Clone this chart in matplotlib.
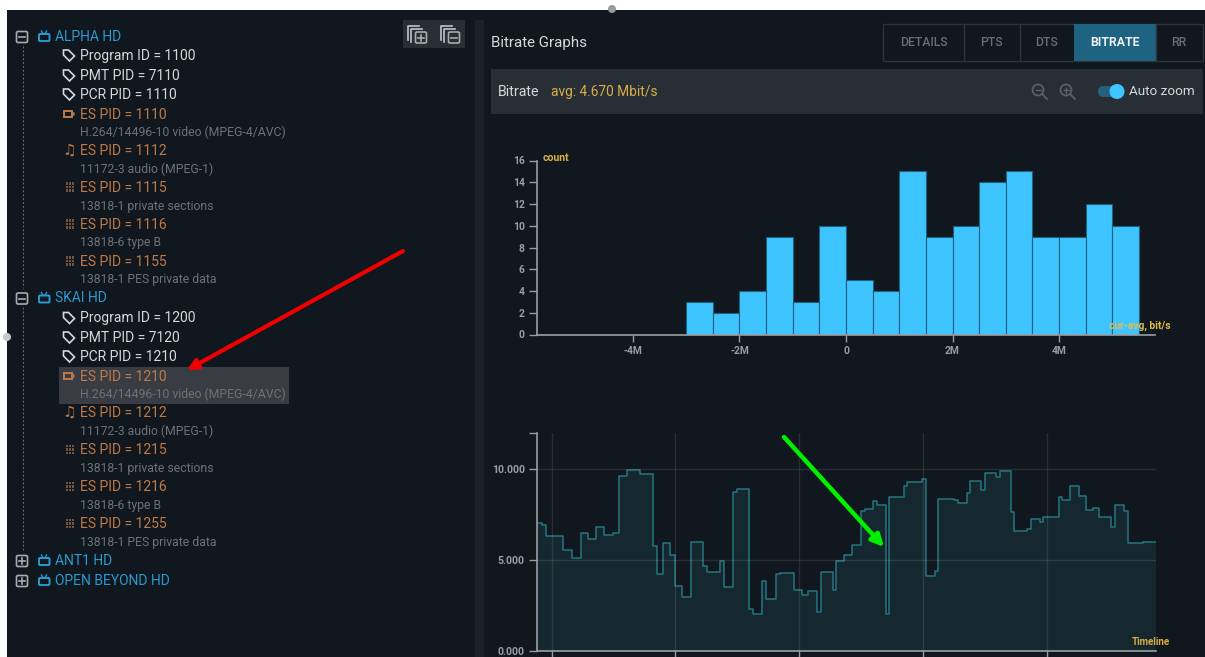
import matplotlib
matplotlib.use("Agg")
from matplotlib import pyplot as plt
from matplotlib.patches import Rectangle, Circle, Polygon, FancyBboxPatch
from matplotlib.ticker import FixedLocator

W, H = 1205, 657

# tree: label, kind, y of row centre
tree_rows = [
    ("ALPHA HD", "prog", 36), ("Program ID = 1100", "tag", 55), ("PMT PID = 7110", "tag", 75),
    ("PCR PID = 1110", "tag", 94), ("ES PID = 1110", "video", 114),
    ("H.264/14496-10 video (MPEG-4/AVC)", "sub", 132), ("ES PID = 1112", "audio", 150),
    ("11172-3 audio (MPEG-1)", "sub", 169), ("ES PID = 1115", "data", 187),
    ("13818-1 private sections", "sub", 206), ("ES PID = 1116", "data", 224),
    ("13818-6 type B", "sub", 242), ("ES PID = 1155", "data", 261),
    ("13818-1 PES private data", "sub", 279),
    ("SKAI HD", "prog", 297.5), ("Program ID = 1200", "tag", 317.5), ("PMT PID = 7120", "tag", 337),
    ("PCR PID = 1210", "tag", 356), ("ES PID = 1210", "video", 376),
    ("H.264/14496-10 video (MPEG-4/AVC)", "sub", 394), ("ES PID = 1212", "audio", 412.5),
    ("11172-3 audio (MPEG-1)", "sub", 431), ("ES PID = 1215", "data", 449.5),
    ("13818-1 private sections", "sub", 468), ("ES PID = 1216", "data", 486.5),
    ("13818-6 type B", "sub", 504.5), ("ES PID = 1255", "data", 523.5),
    ("13818-1 PES private data", "sub", 541.5),
    ("ANT1 HD", "closed", 560), ("OPEN BEYOND HD", "closed", 580),
]

tab_names = ["DETAILS", "PTS", "DTS", "BITRATE", "RR"]
tab_edges = [883, 964, 1019.5, 1074, 1155.5, 1203]

# histogram
hist_left = [-3.0, -2.5, -2.0, -1.5, -1.0, -0.5, 0.0, 0.5, 1.0, 1.5, 2.0, 2.5, 3.0, 3.5, 4.0, 4.5, 5.0]
hist_count = [3, 2, 4, 9, 3, 10, 5, 4, 15, 9, 10, 14, 15, 9, 9, 12, 10]
hist_xticks = [-4, -2, 0, 2, 4]
hist_xlabels = ["-4M", "-2M", "0", "2M", "4M"]
hist_yticks = [0, 2, 4, 6, 8, 10, 12, 14, 16]

# timeline, x in arbitrary time units
time_start = [142, 155, 167, 219, 245, 272, 293, 319, 343, 368, 388, 410, 449, 490, 500, 520, 540, 555,
              576, 604, 639, 652, 691, 703, 730, 742, 777, 790, 815, 828, 857, 869, 912, 935, 953, 981,
              993, 1028, 1039, 1062, 1087, 1114, 1126, 1148, 1161, 1187, 1198, 1241, 1250, 1296, 1307,
              1335, 1345, 1392, 1403, 1431, 1441, 1472, 1485, 1519, 1529, 1564, 1572, 1610, 1623, 1650,
              1660, 1706, 1717, 1741, 1766, 1787, 1808, 1826, 1863, 1875, 1902, 1914, 1958]
time_end = 1998
rate_vals = [7.0, 6.92, 6.3, 5.55, 5.1, 6.5, 6.13, 6.78, 6.37, 6.45, 9.62, 9.93, 9.74, 5.77, 4.23, 5.92,
             5.27, 3.55, 2.97, 5.99, 4.67, 4.34, 4.96, 3.48, 8.72, 8.92, 2.29, 2.01, 3.85, 2.82, 4.23,
             4.29, 3.32, 3.04, 3.30, 2.14, 4.32, 3.33, 4.91, 5.26, 5.79, 7.69, 7.78, 8.26, 8.0, 2.03,
             8.46, 9.05, 9.3, 9.45, 4.1, 4.41, 8.33, 8.3, 8.1, 8.66, 9.32, 8.83, 9.78, 9.58, 9.91, 7.64,
             6.59, 6.67, 7.22, 7.1, 7.34, 8.46, 8.31, 9.08, 8.52, 7.75, 7.86, 7.34, 6.79, 8.02, 7.71,
             5.93, 6.0]
time_ticks = [185, 556, 928, 1300, 1671]
rate_ticks = [0, 5, 10, 12]
rate_labels = ["0.000", "5.000", "10.000", ""]

BG = "#10171e"
BAR = "#282e35"
BLUE = "#2a9ad0"
WHITE = "#d6d8da"
ORANGE = "#c07a48"
SUB = "#6c7277"
YELLOW = "#d8ae45"
AXIS = "#9a9ea2"

plt.rcParams["font.family"] = ["Roboto", "DejaVu Sans"]

fig = plt.figure(figsize=(W / 100, H / 100), dpi=100, facecolor="white")


def px_axes(l, t, r, b, z):
    a = fig.add_axes([l / W, 1 - b / H, (r - l) / W, (b - t) / H], zorder=z)
    a.patch.set_alpha(0)
    return a


ui = px_axes(0, 0, W, H, 0)
ui.set_xlim(0, W)
ui.set_ylim(H, 0)
ui.axis("off")
ui.add_patch(Rectangle((7, 10), W - 7, H - 10, color=BG, lw=0))
ui.add_patch(Rectangle((475, 20), 9, H - 20, color="#1a2128", lw=0))
ui.add_patch(Circle((7, 337), 4, color="#c8c8c8", lw=0))
ui.add_patch(Circle((612, 9), 4, color="#9a9a9a", lw=0))


def draw_box(x, y, sign):
    ui.add_patch(FancyBboxPatch((x - 5.5, y - 5.5), 11, 11, boxstyle="round,pad=0,rounding_size=1.5",
                                fc="none", ec="#a8acb0", lw=1.2))
    ui.plot([x - 3, x + 3], [y, y], color="#a8acb0", lw=1.2)
    if sign == "+":
        ui.plot([x, x], [y - 3, y + 3], color="#a8acb0", lw=1.2)


def draw_tv(x, y):
    ui.add_patch(FancyBboxPatch((x - 5, y - 3), 10.5, 7, boxstyle="round,pad=0,rounding_size=1",
                                fc="none", ec=BLUE, lw=1.4))
    ui.plot([x - 2.5, x - 1, x + 1, x + 2.5], [y - 6, y - 3, y - 3, y - 6], color=BLUE, lw=1)


def draw_tag(x, y):
    pts = [(x - 5.5, y - 5), (x - 0.5, y - 5), (x + 5.5, y + 1), (x + 0.5, y + 6), (x - 5.5, y)]
    ui.add_patch(Polygon(pts, closed=True, fc="none", ec=WHITE, lw=1.2))


def draw_video(x, y):
    ui.add_patch(Rectangle((x - 5, y - 3), 7.5, 6, fc="none", ec=ORANGE, lw=1.4))
    ui.add_patch(Polygon([(x + 3, y - 1), (x + 5.5, y - 2), (x + 5.5, y + 2), (x + 3, y + 1)], color=ORANGE, lw=0))


def draw_data(x, y):
    for dx in [-4, -1, 2]:
        for dy in [-5, -1.5, 2]:
            ui.add_patch(Rectangle((x + dx, y + dy), 2.2, 2.6, color="#75523a", lw=0))


# selected row
ui.add_patch(Rectangle((59, 367), 230, 36.5, color="#393d43", lw=0))

# dashed tree lines
ui.plot([22.5, 22.5], [46, 288], color="#6a6f74", lw=0.7, ls=(0, (2, 2)))
ui.plot([22.5, 22.5], [307, 551], color="#6a6f74", lw=0.7, ls=(0, (2, 2)))

for label, kind, y in tree_rows:
    ty = y + 0.8
    if kind in ("prog", "closed"):
        draw_box(22, y + 1, "-" if kind == "prog" else "+")
        draw_tv(44, y + 1)
        ui.text(55, ty, label, color=BLUE, fontsize=10, va="center")
    elif kind == "tag":
        draw_tag(69, y)
        ui.text(80, ty, label, color=WHITE, fontsize=10, va="center")
    elif kind == "sub":
        ui.text(80, ty, label, color=SUB, fontsize=8.85, va="center")
    else:
        if kind == "video":
            draw_video(69, y)
        elif kind == "audio":
            ui.text(69, y, "\u266b", color=ORANGE, fontsize=11, fontweight="bold", ha="center", va="center",
                    family="DejaVu Sans")
        else:
            draw_data(70, y)
        ui.text(80, ty, label, color=ORANGE, fontsize=10, va="center")

# expand / collapse all buttons
ui.add_patch(Rectangle((403, 20), 62, 28, color=BAR, lw=0))
for cx, sign in [(417, "+"), (450, "-")]:
    ui.plot([cx - 9, cx - 9, cx + 2], [40, 26, 26], color="#c0c4c8", lw=1.2)
    ui.plot([cx - 6, cx - 6, cx + 5], [42, 29, 29], color="#c0c4c8", lw=1.2)
    draw_box(cx + 4, 37.5, sign)

# right header
ui.text(491, 42.8, "Bitrate Graphs", color=WHITE, fontsize=10.9, va="center")
ui.add_patch(Rectangle((tab_edges[0], 24), tab_edges[-1] - tab_edges[0], 37, fc="none", ec="#2c3339", lw=1))
for i, name in enumerate(tab_names):
    l, r = tab_edges[i], tab_edges[i + 1]
    active = name == "BITRATE"
    if active:
        ui.add_patch(Rectangle((l, 24), r - l, 37, color="#1f6382", lw=0))
    elif i > 0:
        ui.plot([l, l], [24, 61], color="#2c3339", lw=1)
    ui.text((l + r) / 2, 42.5, name, color="#eef0f2" if active else "#686e74", fontsize=8.8,
            fontweight="bold" if active else "medium", ha="center", va="center")

ui.add_patch(Rectangle((491, 69), 712, 45, color=BAR, lw=0))
ui.text(498, 91.8, "Bitrate", color=WHITE, fontsize=10.2, va="center")
ui.text(551, 91.8, "avg: 4.670 Mbit/s", color=YELLOW, fontsize=9.9, va="center")
for cx, sign in [(1038, "-"), (1066, "+")]:
    ui.add_patch(Circle((cx, 90), 5.5, fc="none", ec="#5c6268", lw=1.2))
    ui.plot([cx + 4, cx + 9], [94, 99], color="#5c6268", lw=1.3)
    ui.plot([cx - 2.5, cx + 2.5], [90, 90], color="#5c6268", lw=1)
    if sign == "+":
        ui.plot([cx, cx], [87.5, 92.5], color="#5c6268", lw=1)
ui.add_patch(FancyBboxPatch((1098, 86), 24, 11, boxstyle="round,pad=0,rounding_size=5.5", color="#26607c", lw=0))
ui.add_patch(Circle((1117, 91.5), 7.5, color="#3ec6ff", lw=0))
ui.text(1129, 91.8, "Auto zoom", color=WHITE, fontsize=9.7, va="center")

# histogram
ax = px_axes(537, 160.5, 1155, 334.5, 1)
ax.bar(hist_left, hist_count, width=0.5, align="edge", color="#3ec5ff", edgecolor="#1c5f7e", linewidth=0.8)
ax.set_xlim(-5.8, 5.8)
ax.set_ylim(0, 16)
ax.set_xticks(hist_xticks)
ax.set_xticklabels(hist_xlabels)
ax.set_yticks(hist_yticks)
ax.tick_params(colors=AXIS, labelsize=7.4, length=5, width=1, pad=3)
ax.tick_params(axis="y", length=6)
for side in ["top", "right"]:
    ax.spines[side].set_visible(False)
for side in ["left", "bottom"]:
    ax.spines[side].set_color(AXIS)
    ax.spines[side].set_linewidth(1.2)
for lab in ax.get_xticklabels() + ax.get_yticklabels():
    lab.set_fontweight("bold")

# timeline
ax2 = px_axes(537.3, 432.5, 1156, 650.7, 1)
xs = time_start + [time_end]
ys = rate_vals + [rate_vals[-1]]
ax2.fill_between(xs, ys, 0, step="post", color="#16282f", lw=0)
ax2.step(xs, ys, where="post", color="#267480", lw=1.1)
ax2.set_xlim(time_start[0], time_end)
ax2.set_ylim(0, 12)
ax2.xaxis.set_major_locator(FixedLocator(time_ticks))
ax2.set_xticklabels([])
ax2.set_yticks(rate_ticks)
ax2.set_yticklabels(rate_labels)
ax2.grid(True, color="#ffffff", alpha=0.1, lw=1)
ax2.get_ygridlines()[-1].set_visible(False)
ax2.set_axisbelow(False)
ax2.tick_params(colors=AXIS, labelsize=7.6, length=6, width=1, pad=3)
for side in ["top", "right"]:
    ax2.spines[side].set_visible(False)
for side in ["left", "bottom"]:
    ax2.spines[side].set_color(AXIS)
    ax2.spines[side].set_linewidth(1.2)
for lab in ax2.get_yticklabels():
    lab.set_fontweight("bold")

# labels and arrows on top
top = px_axes(0, 0, W, H, 2)
top.set_xlim(0, W)
top.set_ylim(H, 0)
top.axis("off")
top.text(543, 158, "count", color=YELLOW, fontsize=7.6, fontweight="bold", va="center")
top.text(1171, 326, "cur-avg, bit/s", color="#e0bc4e", fontsize=7.4, fontweight="bold", ha="right", va="center")
top.text(1170, 642, "Timeline", color=YELLOW, fontsize=7, fontweight="bold", ha="right", va="center")
top.annotate("", xy=(187, 370), xytext=(403, 251),
             arrowprops=dict(arrowstyle="-|>,head_length=0.6,head_width=0.3", color="#f00000", lw=3, shrinkA=0, shrinkB=0))
top.annotate("", xy=(884, 547), xytext=(784, 437),
             arrowprops=dict(arrowstyle="-|>,head_length=0.7,head_width=0.35", color="#00f000", lw=3.2, shrinkA=0, shrinkB=0))

fig.savefig("out.png", dpi=100)
